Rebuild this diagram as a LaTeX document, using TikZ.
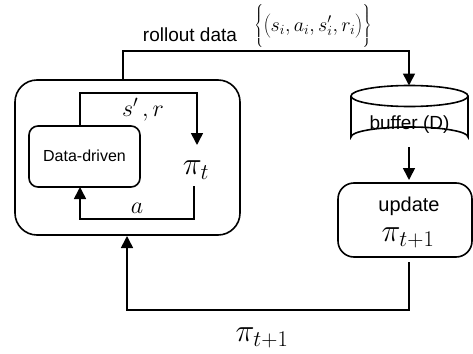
\RequirePackage{fix-cm}
\documentclass[tikz,border=0pt]{standalone}
\usepackage{fontspec}
\setmainfont{Liberation Sans}
\usetikzlibrary{arrows.meta}
\tikzset{
  ln/.style={line width=1.6pt},
  arr/.style={ln,-{Triangle[length=12pt,width=12pt]}},
  sf/.style={font=\fontsize{#1}{#1}\selectfont},
}
\begin{document}
\begin{tikzpicture}[x=1pt,y=-1pt]
\useasboundingbox (0,0) rectangle (473,353);
% outer box
\draw[ln,rounded corners=22pt] (15,80) rectangle (240,235);
\coordinate (outerTop) at (123,80);
\coordinate (outerBot) at (127,236);
% inner box
\draw[ln,rounded corners=9pt] (29,126) rectangle (140,187);
\node[sf=16] (dd) at (84.5,156) {Data-driven};
\coordinate (ddTop) at (80,126);
\coordinate (ddBot) at (80,187);
\node[sf=32] (pit) at (196,170) {$\pi_t$};
\coordinate (pitTop) at (197,145);
\coordinate (pitBot) at (194,186);
\draw[arr] (ddTop) |- (197,93) -- (pitTop);
\draw[arr] (pitBot) |- (80,219) -- (ddBot);
\node[sf=24] (sr) at (143,110) {$s'\,,r$};
\node[sf=24] (a) at (137,208) {$a$};
% cylinder buffer
\draw[ln] (351,96) -- (351,137) arc[start angle=180,end angle=360,x radius=58.5,y radius=10] -- (468,96);
\draw[ln] (409.5,96) ellipse[x radius=58.5,y radius=10.5];
\node[sf=19] (buf) at (409.5,125) {buffer (D)};
\coordinate (bufTop) at (409,85.5);
\coordinate (bufBot) at (409,147);
% update box
\draw[ln,rounded corners=16pt] (338,183) rectangle (472,257);
\node[sf=20] (upd) at (409,206) {update};
\node[sf=32] (pi1) at (408,238) {$\pi_{t+1}$};
\coordinate (updTop) at (409,180);
\coordinate (updBot) at (409,262);
% connectors
\draw[arr] (outerTop) |- (409,51) -- (bufTop);
\draw[arr] (bufBot) -- (updTop);
\draw[arr] (updBot) |- (127,310) -- (outerBot);
\node[sf=19] (ro) at (190,35) {rollout data};
\node[sf=20,inner sep=0pt] (set) at (313,26) {$\left\{\rule[-0.8em]{0pt}{2.1em}\Bigg(s_i,a_i,s'_i,r_i\Bigg)\right\}$};
\node[sf=32] (pib) at (262,338) {$\pi_{t+1}$};
\end{tikzpicture}
\end{document}
